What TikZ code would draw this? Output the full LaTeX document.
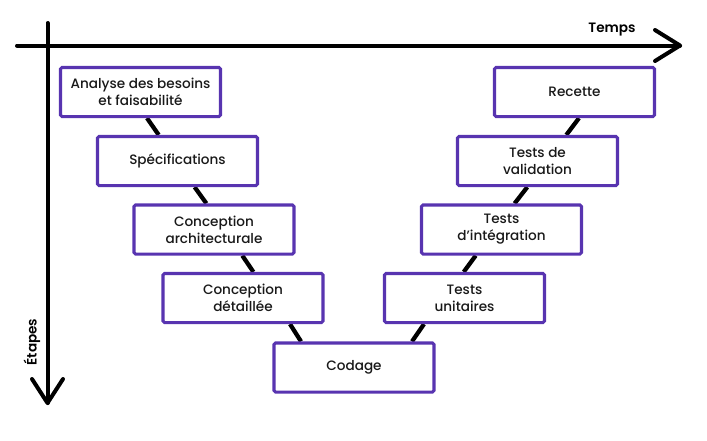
\documentclass[tikz,border=0pt]{standalone}
\usepackage{fontspec}
\setmainfont{Poppins Medium}[BoldFont={Poppins SemiBold}]
\usetikzlibrary{backgrounds,calc}
\definecolor{vpurple}{RGB}{88,52,176}
\definecolor{vtext}{RGB}{25,25,25}
\tikzset{
  stepbox/.style={draw=vpurple, line width=2.3pt, fill=white, rounded corners=1.2pt,
    minimum width=120pt, minimum height=36.8pt, inner sep=0pt, align=center,
    text=vtext, font=\fontsize{10.2}{12.8}\selectfont},
  link/.style={line width=3.2pt, black},
  axis/.style={line width=3pt, black, line cap=round, line join=round},
  axislabel/.style={font=\bfseries\fontsize{10.2}{11}\selectfont, text=black, inner sep=0pt}
}
\begin{document}
\begin{tikzpicture}[x=0.75pt,y=-0.75pt]
\useasboundingbox (0,0) rectangle (707,440);
% axes
\coordinate (hs) at (17,45.5);
\coordinate (he) at (680,45.5);
\coordinate (vs) at (47.5,23);
\coordinate (ve) at (47.5,403);
\draw[axis] (hs) -- (he);
\draw[axis] ($(he)+(-25,-15.5)$) -- (he) -- ($(he)+(-25,15.5)$);
\draw[axis] (vs) -- (ve);
\draw[axis] ($(ve)+(-15.5,-24)$) -- (ve) -- ($(ve)+(15.5,-24)$);
\node[axislabel] (temps) at (612,30) {Temps};
\node[axislabel, rotate=90] (etapes) at (32,342) {Étapes};
% boxes
\node[stepbox] (ana) at (140.5,92) {Analyse des besoins\\et faisabilité};
\node[stepbox] (spe) at (177.5,161) {Spécifications};
\node[stepbox] (arc) at (214,229.5) {Conception\\architecturale};
\node[stepbox] (det) at (243,298) {Conception\\détaillée};
\node[stepbox] (cod) at (354,367.5) {Codage};
\node[stepbox] (rec) at (574.5,92) {Recette};
\node[stepbox] (val) at (537.5,161) {Tests de\\validation};
\node[stepbox] (int) at (501.5,229.5) {Tests\\d’intégration};
\node[stepbox] (uni) at (464.5,298) {Tests\\unitaires};
% connectors
\begin{scope}[on background layer]
\draw[link] ($(ana.south)+(6.5,0)$) -- ($(spe.north)+(-18.8,0)$);
\draw[link] ($(spe.south)+(17.1,0)$) -- ($(arc.north)+(-7.6,0)$);
\draw[link] ($(arc.south)+(28.3,0)$) -- ($(det.north)+(10.4,0)$);
\draw[link] ($(det.south)+(47,0)$) -- ($(cod.north)+(-53,0)$);
\draw[link] ($(cod.north)+(58,0)$) -- ($(uni.south)+(-40.5,0)$);
\draw[link] ($(uni.north)+(-0.8,0)$) -- ($(int.south)+(-25.8,0)$);
\draw[link] ($(int.north)+(13.1,0)$) -- ($(val.south)+(-10.2,0)$);
\draw[link] ($(val.north)+(28.8,0)$) -- ($(rec.south)+(4.5,0)$);
\end{scope}
\end{tikzpicture}
\end{document}
